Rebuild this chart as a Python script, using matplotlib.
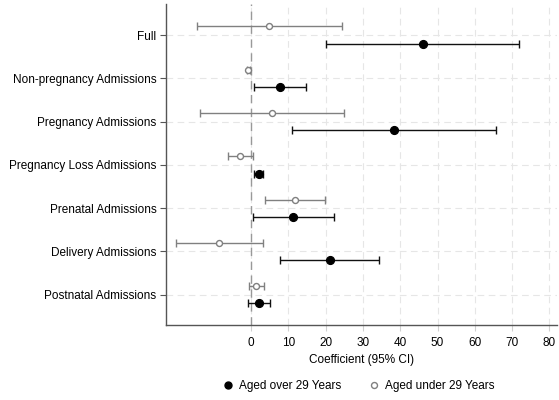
import numpy as np
import matplotlib.pyplot as plt
from matplotlib.lines import Line2D

plt.rcParams['font.family'] = ['Liberation Sans', 'DejaVu Sans']

categories = ['Full', 'Non-pregnancy Admissions', 'Pregnancy Admissions',
              'Pregnancy Loss Admissions', 'Prenatal Admissions',
              'Delivery Admissions', 'Postnatal Admissions']

# aged over 29: estimate, lower and upper CI
over_est = [46.1, 7.7, 38.3, 2.0, 11.3, 21.2, 2.1]
over_lo = [20.0, 0.9, 11.1, 0.9, 0.4, 7.8, -0.8]
over_hi = [71.9, 14.6, 65.7, 3.2, 22.2, 34.4, 5.1]

# aged under 29
under_est = [4.9, -0.7, 5.7, -2.9, 11.7, -8.5, 1.3]
under_lo = [-14.5, -1.0, -13.6, -6.3, 3.7, -20.2, -0.5]
under_hi = [24.4, -0.3, 24.8, 0.5, 19.8, 3.3, 3.4]

xticks = [0, 10, 20, 30, 40, 50, 60, 70, 80]

fig = plt.figure(figsize=(5.59, 4.0), dpi=100)
ax = fig.add_axes([0.297, 0.1875, 0.70, 0.8025])

pos = np.arange(1, len(categories) + 1)

for x in xticks:
    ax.axvline(x, color='#e6e6e6', lw=0.8, ls=(0, (6, 4)), zorder=0)
for y in pos:
    ax.axhline(y, color='#e6e6e6', lw=0.8, ls=(0, (6, 4)), zorder=0)
ax.axvline(0, color='#999999', lw=1.0, ls=(0, (6, 4)), zorder=1)

est = np.array(under_est)
ax.errorbar(est, pos - 0.2,
            xerr=[est - np.array(under_lo), np.array(under_hi) - est],
            fmt='o', color='#808080', mfc='white', mec='#808080', ms=4.3,
            mew=1.0, elinewidth=1.0, capsize=3, zorder=3)

est = np.array(over_est)
ax.errorbar(est, pos + 0.2,
            xerr=[est - np.array(over_lo), np.array(over_hi) - est],
            fmt='o', color='#111111', mfc='black', mec='black', ms=5.6,
            elinewidth=1.0, capsize=3, zorder=4)

ax.set_yticks(pos)
ax.set_yticklabels(categories, fontsize=8.5)
ax.set_ylim(7.7, 0.28)
ax.set_xticks(xticks)
ax.set_xticklabels([str(x) for x in xticks], fontsize=8.5)
ax.set_xlim(-22.8, 82.1)
ax.tick_params(axis='x', length=4, color='#d0d0d0', pad=5)
ax.tick_params(axis='y', length=4, color='#555555', pad=3)
ax.set_xlabel('Coefficient (95% CI)', fontsize=8.5, labelpad=3)

for s in ['top', 'right']:
    ax.spines[s].set_visible(False)
for s in ['left', 'bottom']:
    ax.spines[s].set_color('#555555')
    ax.spines[s].set_linewidth(1.0)

handles = [Line2D([], [], ls='none', marker='o', color='black', ms=5),
           Line2D([], [], ls='none', marker='o', mfc='white', mec='#808080', ms=4.3)]
fig.legend(handles, ['Aged over 29 Years', 'Aged under 29 Years'],
           loc='center', bbox_to_anchor=(0.64, 0.035), ncol=2, frameon=False,
           fontsize=8.5, handletextpad=0.3, columnspacing=2.2, handlelength=1.2)

fig.savefig('out.png', dpi=100)
